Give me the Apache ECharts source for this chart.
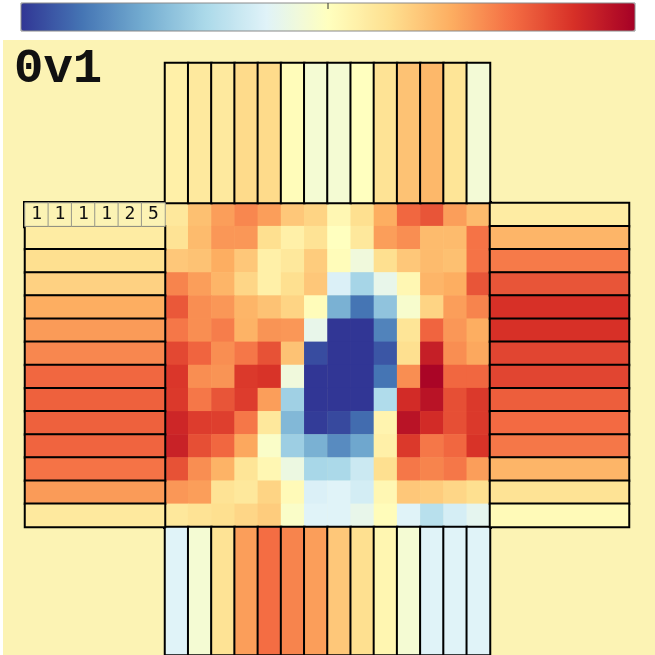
<!DOCTYPE html>
<html>
<head>
<meta charset="utf-8">
<script src="https://cdn.jsdelivr.net/npm/echarts@6.0.0/dist/echarts.min.js"></script>
<style>
html, body { margin: 0; padding: 0; background: #fff; }
#chart { width: 655px; height: 655px; }
</style>
</head>
<body>
<div id="chart"></div>
<script>
// values on a -1..1 scale, 0 = pale yellow
const centre = [
    [0.15, 0.33, 0.45, 0.52, 0.45, 0.30, 0.25, 0.05, 0.20, 0.40, 0.62, 0.68, 0.45, 0.35],
    [0.18, 0.35, 0.47, 0.47, 0.20, 0.10, 0.18, 0.00, 0.15, 0.45, 0.50, 0.35, 0.35, 0.58],
    [0.30, 0.32, 0.40, 0.30, 0.10, 0.15, 0.28, 0.02, -0.10, 0.20, 0.30, 0.35, 0.33, 0.58],
    [0.53, 0.45, 0.37, 0.24, 0.10, 0.20, 0.30, -0.22, -0.42, -0.15, 0.05, 0.37, 0.40, 0.68],
    [0.67, 0.50, 0.47, 0.37, 0.32, 0.25, 0.02, -0.58, -0.80, -0.50, -0.05, 0.25, 0.45, 0.53],
    [0.57, 0.50, 0.55, 0.38, 0.48, 0.47, -0.15, -1.00, -1.00, -0.75, 0.17, 0.63, 0.47, 0.40],
    [0.72, 0.63, 0.50, 0.57, 0.69, 0.32, -0.93, -1.00, -1.00, -0.90, 0.20, 0.87, 0.50, 0.42],
    [0.78, 0.50, 0.48, 0.77, 0.79, -0.10, -1.00, -1.00, -1.00, -0.80, 0.50, 0.98, 0.62, 0.62],
    [0.77, 0.57, 0.68, 0.76, 0.45, -0.44, -1.00, -1.00, -1.00, -0.38, 0.82, 0.92, 0.70, 0.77],
    [0.84, 0.76, 0.75, 0.57, 0.15, -0.55, -0.98, -0.94, -0.83, 0.07, 0.92, 0.82, 0.70, 0.77],
    [0.86, 0.70, 0.62, 0.42, -0.03, -0.45, -0.58, -0.72, -0.62, 0.10, 0.77, 0.57, 0.62, 0.79],
    [0.69, 0.50, 0.38, 0.17, 0.05, -0.12, -0.41, -0.40, -0.28, 0.20, 0.57, 0.53, 0.57, 0.45],
    [0.47, 0.45, 0.18, 0.15, 0.25, 0.03, -0.22, -0.20, -0.25, 0.05, 0.30, 0.28, 0.24, 0.20],
    [0.15, 0.18, 0.20, 0.24, 0.28, -0.03, -0.20, -0.20, -0.15, 0.02, -0.20, -0.35, -0.24, -0.17]
]
const topVals = [0.10, 0.14, 0.14, 0.22, 0.22, 0.02, -0.07, -0.07, 0.00, 0.18, 0.32, 0.36, 0.17, -0.08]
const bottomVals = [-0.20, -0.07, 0.18, 0.45, 0.60, 0.53, 0.45, 0.30, 0.20, 0.06, -0.07, -0.20, -0.20, -0.20]
const leftVals = [0.12, 0.20, 0.26, 0.40, 0.46, 0.52, 0.62, 0.64, 0.64, 0.63, 0.58, 0.46, 0.14]
const rightVals = [0.12, 0.37, 0.56, 0.68, 0.80, 0.80, 0.73, 0.73, 0.65, 0.61, 0.57, 0.37, 0.18, 0.03]
const labelRow = [1, 1, 1, 1, 2, 5]
const title = '0v1'

const palette = ['#313695', '#4575b4', '#74add1', '#abd9e9', '#e0f3f8', '#ffffbf',
    '#fee090', '#fdae61', '#f46d43', '#d73027', '#a50026']
const bg = '#fcf3b4'

const idx = centre.map((_, i) => String(i))
const one = ['0']

const centreData = []
centre.forEach((row, r) => row.forEach((v, c) => centreData.push([c, r, v])))
const topData = topVals.map((v, c) => [c, 0, v])
const bottomData = bottomVals.map((v, c) => [c, 0, v])
const leftData = leftVals.map((v, r) => [0, r + 1, v])
const rightData = rightVals.map((v, r) => [0, r, v])
const labelData = labelRow.map((v, i) => [i, 0, v])

const strip = { borderColor: '#000', borderWidth: 2 }

const cat = (data, gridIndex, inverse) => ({
    type: 'category', data, gridIndex, inverse: !!inverse, show: false
})

const heat = (name, i, data, itemStyle) => ({
    name, type: 'heatmap', xAxisIndex: i, yAxisIndex: i, data,
    itemStyle, emphasis: { disabled: true }, animation: false
})

const chart = echarts.init(document.getElementById('chart'))

chart.setOption({
    backgroundColor: '#fff',
    animation: false,
    title: {
        text: title, left: 9, top: 40, padding: 5,
        textStyle: { fontFamily: 'Liberation Mono', fontWeight: 'bold', fontSize: 49, color: '#111' }
    },
    graphic: [
        { type: 'rect', z: -10, shape: { x: 3, y: 40, width: 652, height: 615 }, style: { fill: bg } },
        { type: 'rect', z: 10, shape: { x: 21, y: 3, width: 614, height: 28 }, style: { fill: 'none', stroke: '#8a8a8a', lineWidth: 1 } },
        { type: 'line', z: 10, shape: { x1: 328, y1: 3, x2: 328, y2: 9 }, style: { stroke: '#333', lineWidth: 1 } }
    ],
    grid: [
        { left: 165, top: 203, width: 325, height: 324, show: true, borderColor: '#000', borderWidth: 4, backgroundColor: 'transparent' },
        { left: 165, top: 63, width: 325, height: 140 },
        { left: 165, top: 527, width: 325, height: 140 },
        { left: 25, top: 203, width: 140, height: 324 },
        { left: 490, top: 203, width: 139, height: 324 },
        { left: 25, top: 203, width: 140, height: 23.14, show: true, borderColor: '#000', borderWidth: 4, backgroundColor: 'transparent' }
    ],
    xAxis: [cat(idx, 0), cat(idx, 1), cat(idx, 2), cat(one, 3), cat(one, 4), cat(labelRow.map(String), 5)],
    yAxis: [cat(idx, 0, true), cat(one, 1), cat(one, 2), cat(idx, 3, true), cat(idx, 4, true), cat(one, 5)],
    visualMap: {
        type: 'continuous', min: -1, max: 1, seriesIndex: [0, 1, 2, 3, 4],
        orient: 'horizontal', left: 21, top: 3, padding: 0,
        itemWidth: 28, itemHeight: 614, calculable: false, showLabel: false, text: null,
        inRange: { color: palette }
    },
    series: [
        heat('centre', 0, centreData, { borderWidth: 0 }),
        heat('top', 1, topData, strip),
        heat('bottom', 2, bottomData, strip),
        heat('left', 3, leftData, strip),
        heat('right', 4, rightData, strip),
        Object.assign(heat('labels', 5, labelData, { color: bg, borderColor: '#9a9a8a', borderWidth: 1 }), {
            label: { show: true, formatter: p => p.value[2], fontFamily: 'DejaVu Sans Mono', fontSize: 18, color: '#111' }
        })
    ]
})
</script>
</body>
</html>
